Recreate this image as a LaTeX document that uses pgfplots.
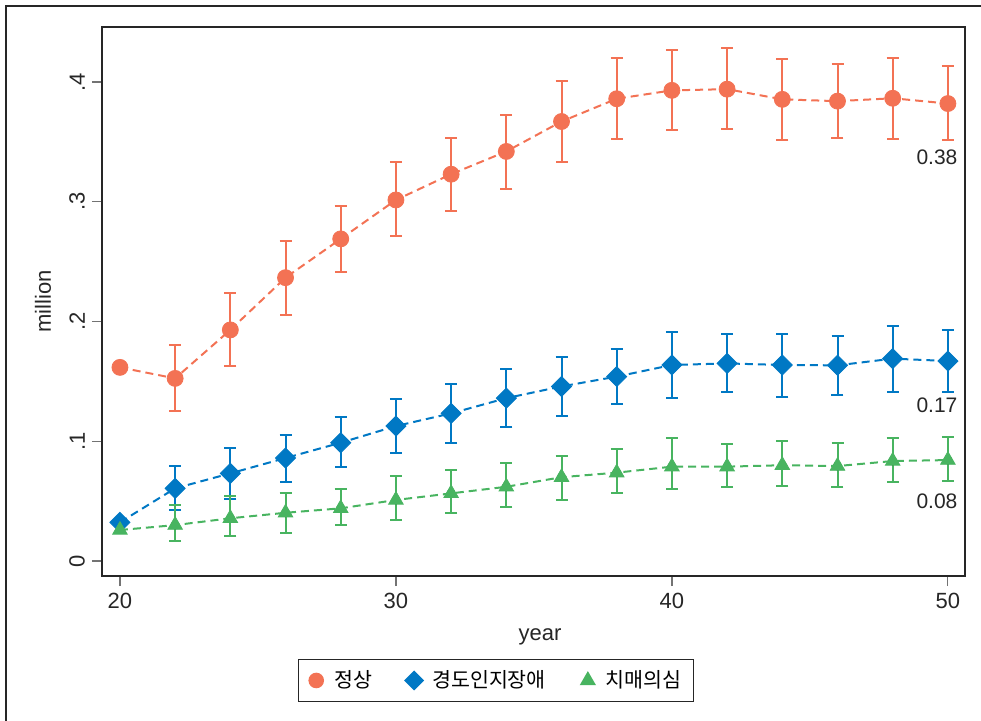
\documentclass[border=0pt]{standalone}
\usepackage{pgfplots}
\pgfplotsset{compat=1.18}
\usepackage{pgfplotstable}
\usepackage{fontspec}
\setmainfont{Liberation Sans}
\newfontfamily\kr{Noto Sans CJK KR}
\definecolor{cred}{HTML}{F37254}
\definecolor{cblue}{HTML}{0078C4}
\definecolor{cgreen}{HTML}{48B460}

\pgfplotstableread{
x y lo hi
20 0.1617 0.1617 0.1617
22 0.1525 0.125 0.180
24 0.193 0.1625 0.224
26 0.2366 0.2057 0.267
28 0.269 0.2415 0.2965
30 0.3015 0.271 0.333
32 0.323 0.292 0.353
34 0.342 0.311 0.3724
36 0.367 0.333 0.401
38 0.386 0.352 0.420
40 0.393 0.360 0.427
42 0.394 0.3605 0.428
44 0.3855 0.3516 0.419
46 0.384 0.3535 0.415
48 0.3864 0.352 0.420
50 0.382 0.3518 0.4136
}\redtab

\pgfplotstableread{
x y lo hi
20 0.0323 0.0323 0.0323
22 0.0607 0.0426 0.079
24 0.0732 0.0518 0.0944
26 0.086 0.066 0.1052
28 0.0988 0.0782 0.1205
30 0.1127 0.090 0.1355
32 0.1233 0.0988 0.148
34 0.136 0.1116 0.160
36 0.1458 0.1214 0.170
38 0.154 0.1314 0.177
40 0.1637 0.1364 0.1912
42 0.165 0.1409 0.1893
44 0.1637 0.1372 0.1893
46 0.1634 0.1389 0.1876
48 0.169 0.1414 0.1965
50 0.167 0.1414 0.1929
}\bluetab

\pgfplotstableread{
x y lo hi
20 0.0259 0.0259 0.0259
22 0.030 0.017 0.047
24 0.0357 0.0209 0.0543
26 0.0403 0.0234 0.0565
28 0.044 0.030 0.060
30 0.051 0.0342 0.0707
32 0.0565 0.0398 0.076
34 0.062 0.0454 0.0816
36 0.070 0.051 0.0874
38 0.0738 0.057 0.0933
40 0.0788 0.060 0.1028
42 0.0788 0.0616 0.0977
44 0.080 0.0629 0.100
46 0.0793 0.062 0.0983
48 0.0835 0.066 0.103
50 0.0843 0.0668 0.1035
}\greentab

\pgfplotsset{
  dline/.style={#1, line width=1pt, dash pattern=on 4pt off 2.5pt, mark=none, forget plot},
  ebar/.style={only marks, mark=none, forget plot, skip coords between index={0}{1},
    error bars/.cd, y dir=both, y explicit,
    error bar style={#1, line width=1pt},
    error mark options={#1, rotate=90, mark size=3pt, line width=1pt},
    /pgfplots/.cd},
}

\begin{document}
\begin{tikzpicture}
\useasboundingbox (0pt,0pt) rectangle (490.5pt,360pt);
\draw[black!85, line width=0.6pt] (3pt,-20pt) -- (3pt,357pt) -- (520pt,357pt);
\begin{axis}[
  at={(51pt,72pt)}, anchor=south west,
  scale only axis, width=431.5pt, height=274.5pt,
  xmin=19.35, xmax=50.62, ymin=-0.0125, ymax=0.4459,
  xtick={20,30,40,50}, xticklabels={20,30,40,50},
  ytick={0,0.1,0.2,0.3,0.4}, yticklabels={0,.1,.2,.3,.4},
  xtick pos=lower, ytick pos=left,
  tick align=outside, major tick length=5pt,
  tick style={black!55, line width=0.6pt},
  axis line style={black!85, line width=0.6pt},
  /pgf/number format/assume math mode=true,
  ticklabel style={font=\fontsize{11}{13}\selectfont, text=black!85},
  yticklabel style={rotate=90, anchor=south},
  xlabel={year}, ylabel={million},
  label style={font=\fontsize{11}{13}\selectfont, text=black!85},
  xlabel style={at={(axis description cs:0.5075,-0.110)}, anchor=center},
  ylabel style={at={(axis description cs:-0.0684,0.5)}, anchor=center},
  legend columns=3,
  legend style={at={(axis description cs:0.4565,-0.1903)}, anchor=center,
    draw=black!85, line width=0.6pt, font=\kr\fontsize{10.3}{12}\selectfont,
    inner xsep=4pt, inner ysep=3.5pt,
    /tikz/every odd column/.append style={column sep=2pt},
    /tikz/every even column/.append style={column sep=14pt}},
  clip=false,
]
% red
\addplot[dline=cred] table[x=x,y=y] {\redtab};
\addplot[ebar=cred] table[x=x, y=y, y error plus expr=\thisrow{hi}-\thisrow{y}, y error minus expr=\thisrow{y}-\thisrow{lo}] {\redtab};
% blue
\addplot[dline=cblue] table[x=x,y=y] {\bluetab};
\addplot[ebar=cblue] table[x=x, y=y, y error plus expr=\thisrow{hi}-\thisrow{y}, y error minus expr=\thisrow{y}-\thisrow{lo}] {\bluetab};
% green
\addplot[dline=cgreen] table[x=x,y=y] {\greentab};
\addplot[ebar=cgreen] table[x=x, y=y, y error plus expr=\thisrow{hi}-\thisrow{y}, y error minus expr=\thisrow{y}-\thisrow{lo}] {\greentab};
% marks
\addplot[only marks, mark=*, mark size=4pt, color=cred, mark options={draw=cred, fill=cred},
  legend image code/.code={\path[draw=none] (-5pt,-5pt) rectangle (5pt,5pt); \fill[draw=none, fill=cred] (0pt,0pt) circle (3.9pt);}] table[x=x,y=y] {\redtab};
\addlegendentry{정상}
\addplot[only marks, mark=square*, mark size=3.55pt, color=cblue, mark options={draw=cblue, fill=cblue, rotate=45},
  legend image code/.code={\path[draw=none] (-5pt,-5pt) rectangle (5pt,5pt); \fill[draw=none, fill=cblue] (0pt,5pt) -- (5pt,0pt) -- (0pt,-5pt) -- (-5pt,0pt) -- cycle;}] table[x=x,y=y] {\bluetab};
\addlegendentry{경도인지장애}
\addplot[only marks, mark=triangle*, mark size=4.2pt, color=cgreen, mark options={draw=cgreen, fill=cgreen},
  legend image code/.code={\path[draw=none] (-5pt,-5pt) rectangle (5pt,5pt); \fill[draw=none, fill=cgreen] (90:4.7pt) -- (210:4.7pt) -- (330:4.7pt) -- cycle;}] table[x=x,y=y] {\greentab};
\addlegendentry{치매의심}

\node[anchor=east, inner sep=0pt, font=\fontsize{10.5}{12}\selectfont, text=black!85] at (axis cs:50.36,0.3374) {0.38};
\node[anchor=east, inner sep=0pt, font=\fontsize{10.5}{12}\selectfont, text=black!85] at (axis cs:50.36,0.1303) {0.17};
\node[anchor=east, inner sep=0pt, font=\fontsize{10.5}{12}\selectfont, text=black!85] at (axis cs:50.36,0.0501) {0.08};
\end{axis}
\end{tikzpicture}
\end{document}
